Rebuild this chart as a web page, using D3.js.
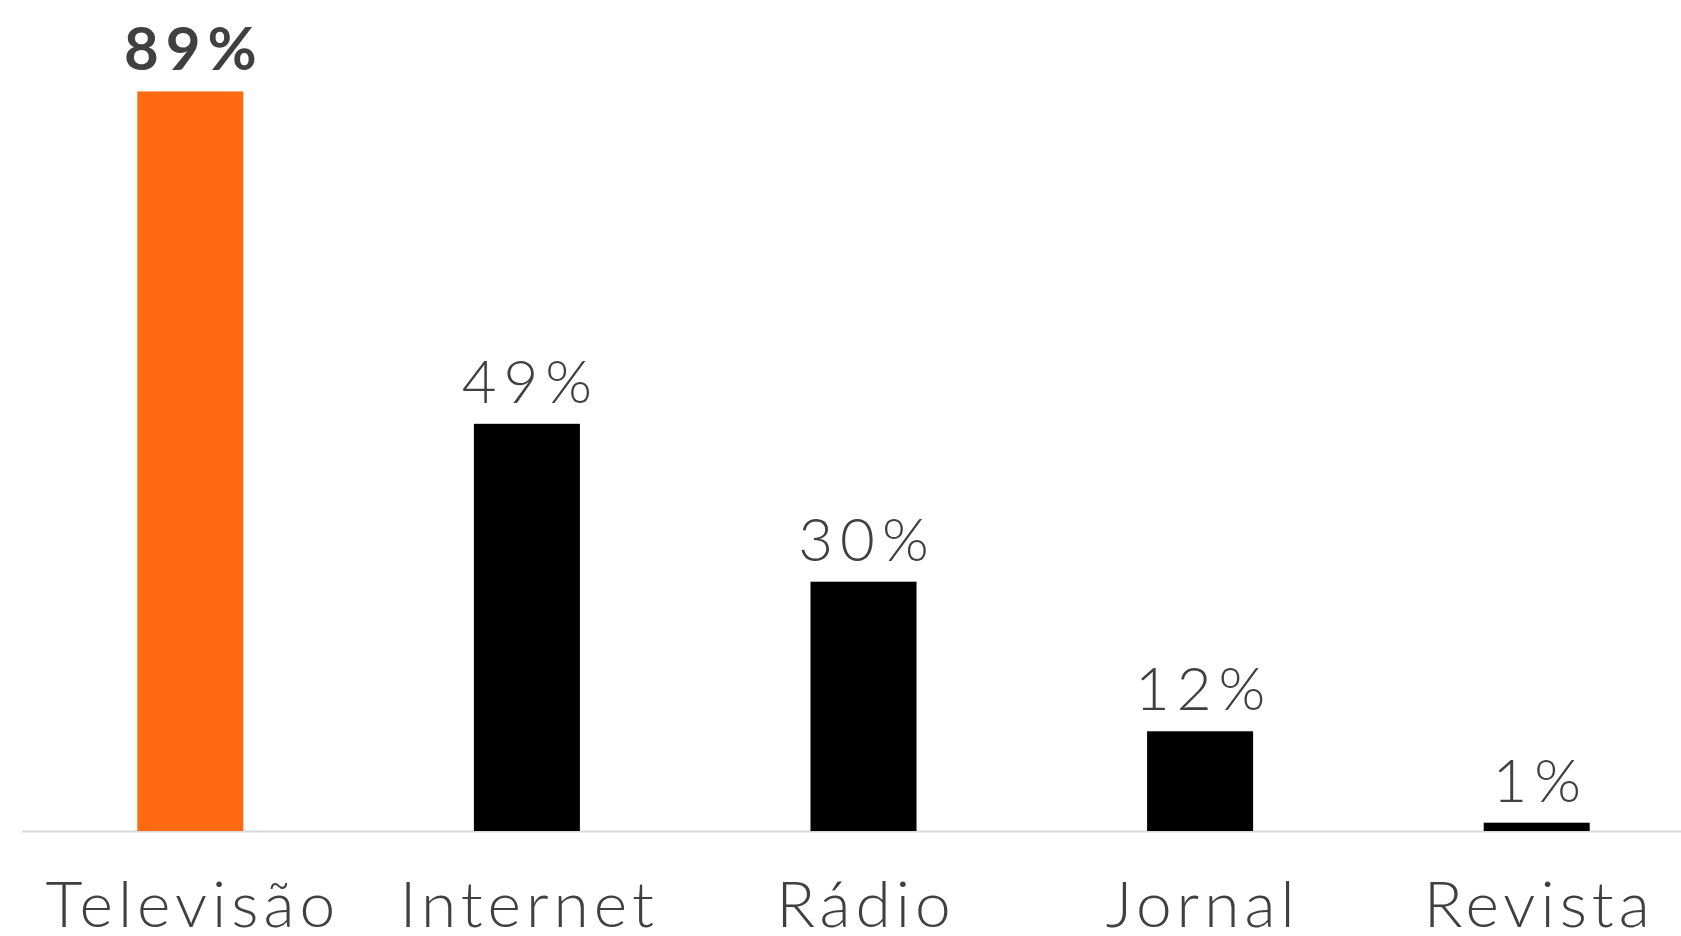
<!DOCTYPE html>
<html><head><meta charset="utf-8">
<script src="https://cdn.jsdelivr.net/npm/d3@7"></script>
<style>
html,body{margin:0;padding:0;background:#fff;}
svg{display:block;}
text{font-family:Lato,"Open Sans",sans-serif;}
</style></head>
<body>
<script>
const categories = ["Televisão","Internet","Rádio","Jornal","Revista"];
const values = [89,49,30,12,1];
const labels = ["89%","49%","30%","12%","1%"];
const highlight = [true,false,false,false,false];

const W = 1681, H = 936;
const svg = d3.select("body").append("svg").attr("width",W).attr("height",H);

const x = d3.scaleBand().domain(categories).range([22, 22+5*336.6]).paddingInner(0.685).paddingOuter(0.3425);
const y = d3.scaleLinear().domain([0,100]).range([831, 0]);

svg.append("line").attr("x1",22).attr("x2",W).attr("y1",831.5).attr("y2",831.5)
  .attr("stroke","#d9d9d9").attr("stroke-width",2);

const data = categories.map((c,i)=>({c, v:values[i], l:labels[i], h:highlight[i]}));

svg.selectAll("rect.bar").data(data).enter().append("rect")
  .attr("class","bar")
  .attr("x",d=>x(d.c)).attr("width",x.bandwidth())
  .attr("y",d=>y(d.v)).attr("height",d=>y(0)-y(d.v))
  .attr("fill",d=>d.h?"#ff6a13":"#000");

const vls = 7, cls = 5;
svg.selectAll("text.val").data(data).enter().append("text")
  .attr("class","val")
  .attr("x",d=>x(d.c)+x.bandwidth()/2+vls/2)
  .attr("y",d=>y(d.v)-21)
  .attr("text-anchor","middle")
  .attr("font-size",60)
  .attr("letter-spacing",vls)
  .attr("font-weight",d=>d.h?700:300)
  .attr("fill","#404040")
  .text(d=>d.l);

svg.selectAll("text.cat").data(data).enter().append("text")
  .attr("class","cat")
  .attr("x",d=>x(d.c)+x.bandwidth()/2+cls/2)
  .attr("y",927)
  .attr("text-anchor","middle")
  .attr("font-size",64)
  .attr("letter-spacing",cls)
  .attr("font-weight",300)
  .attr("fill","#404040")
  .text(d=>d.c);
</script>
</body></html>
